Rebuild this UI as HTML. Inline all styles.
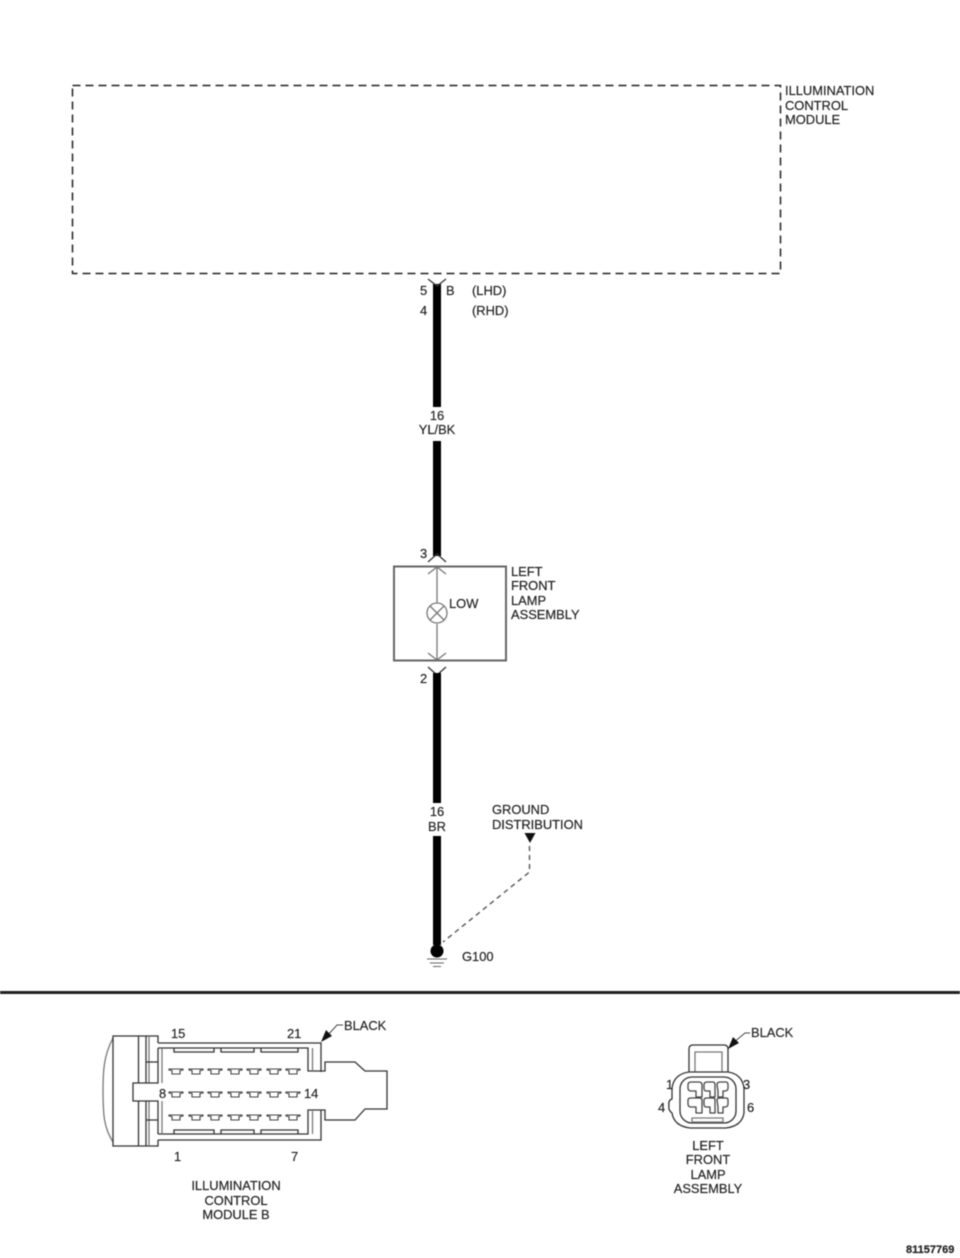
<!DOCTYPE html>
<html>
<head>
<meta charset="utf-8">
<style>
html,body{margin:0;padding:0;background:#fff;width:960px;height:1258px;overflow:hidden}
svg{display:block;filter:blur(0.45px)}
text{font-family:"Liberation Sans",sans-serif;font-size:12.9px;fill:#222;stroke:#222;stroke-width:.18px}
.m{text-anchor:middle}
.l{fill:none;stroke:#333;stroke-width:1.3}
.g{fill:none;stroke:#777;stroke-width:1.3}
.p{fill:#fff;stroke:#444;stroke-width:1.1}
</style>
</head>
<body>
<svg width="960" height="1258" viewBox="0 0 960 1258" xmlns="http://www.w3.org/2000/svg">
<rect x="72.500" y="85.500" width="708" height="188" fill="none" stroke="#222" stroke-width="1.500" stroke-dasharray="8 5"/>
<text x="785" y="95">ILLUMINATION</text>
<text x="785" y="110">CONTROL</text>
<text x="785" y="124">MODULE</text>

<!-- top wire -->
<path d="M437 284V407M437 441V556" stroke="#000" stroke-width="8" fill="none"/>
<path d="M428 279L437 286L446 279" class="l"/>
<text x="420" y="295">5</text>
<text x="446" y="295">B</text>
<text x="472" y="295">(LHD)</text>
<text x="420" y="315">4</text>
<text x="472" y="315">(RHD)</text>
<text x="437" y="420" class="m">16</text>
<text x="437" y="434" class="m">YL/BK</text>

<!-- lamp assembly -->
<text x="420" y="558">3</text>
<path d="M428 562L437 554L446 562" class="l"/>
<rect x="394" y="566.500" width="112" height="94" fill="none" stroke="#666" stroke-width="2"/>
<path d="M428 574L437 567L446 574" class="g"/>
<path d="M437 567V603M437 624V660" class="g"/>
<circle cx="437" cy="613" r="10" class="g"/>
<path d="M430 606L444 620M444 606L430 620" class="g"/>
<path d="M428 653L437 660L446 653" class="g"/>
<text x="449" y="608">LOW</text>
<text x="511" y="576">LEFT</text>
<text x="511" y="590">FRONT</text>
<text x="511" y="605">LAMP</text>
<text x="511" y="619">ASSEMBLY</text>

<!-- bottom wire -->
<text x="420" y="683">2</text>
<path d="M428 667L437 675L446 667" class="l"/>
<path d="M437 673V803M437 836V945" stroke="#000" stroke-width="8" fill="none"/>
<text x="437" y="816" class="m">16</text>
<text x="437" y="831" class="m">BR</text>
<circle cx="437" cy="951" r="6.500" fill="#000"/>
<path d="M427 959H447M430 963H444M433 966.500H441" stroke="#666" stroke-width="1" fill="none"/>
<text x="462" y="961">G100</text>
<text x="492" y="814">GROUND</text>
<text x="492" y="829">DISTRIBUTION</text>
<path d="M524.500 833H535.500L530 843Z" fill="#111"/>
<path d="M529.500 846V872L443 942" fill="none" stroke="#555" stroke-width="1.400" stroke-dasharray="5 4"/>

<!-- divider -->
<rect x="0" y="991" width="960" height="3" fill="#222"/>

<!-- left connector -->
<g>
<path d="M113 1038C104 1055 103 1070 103 1091C103 1115 104 1128 113 1142" class="g"/>
<path d="M158 1043V1036H113V1146H158V1140" class="l"/>
<path d="M158 1043H321V1072M321 1110V1140H158" class="l"/>
<path d="M138.500 1036V1083M138.500 1101V1146M146 1036V1083M146 1101V1146" class="l"/>
<path d="M149 1036V1083M149 1101V1146" class="g"/>
<path d="M158 1048V1083H133V1101H158V1134" class="l"/>
<path d="M146 1062H158M146 1120H158" class="l"/>
<path d="M158 1048H308V1071H325V1062H355L365 1071H387V1109H365L355 1120H325V1110H308V1134H158" class="l"/>
<path d="M312.500 1048V1071M312.500 1111V1134M162 1048V1083M162 1101V1134" class="g"/>
<path d="M174 1048V1052H214V1048M221 1048V1052H254V1048M261 1048V1052H298V1048" class="l"/>
<path d="M174 1134V1130H214V1134M221 1134V1130H254V1134M261 1134V1130H298V1134" class="l"/>
<g class="p">
<path d="M169 1069H183V1070L180 1070.500V1074H172V1070.500L169 1070Z M189 1069H203V1070L200 1070.500V1074H192V1070.500L189 1070Z M208 1069H222V1070L219 1070.500V1074H211V1070.500L208 1070Z M228 1069H242V1070L239 1070.500V1074H231V1070.500L228 1070Z M247 1069H261V1070L258 1070.500V1074H250V1070.500L247 1070Z M267 1069H281V1070L278 1070.500V1074H270V1070.500L267 1070Z M286 1069H300V1070L297 1070.500V1074H289V1070.500L286 1070Z"/>
<path d="M169 1092H183V1093L180 1093.500V1097H172V1093.500L169 1093Z M189 1092H203V1093L200 1093.500V1097H192V1093.500L189 1093Z M208 1092H222V1093L219 1093.500V1097H211V1093.500L208 1093Z M228 1092H242V1093L239 1093.500V1097H231V1093.500L228 1093Z M247 1092H261V1093L258 1093.500V1097H250V1093.500L247 1093Z M267 1092H281V1093L278 1093.500V1097H270V1093.500L267 1093Z M286 1092H300V1093L297 1093.500V1097H289V1093.500L286 1093Z"/>
<path d="M169 1115H183V1116L180 1116.500V1120H172V1116.500L169 1116Z M189 1115H203V1116L200 1116.500V1120H192V1116.500L189 1116Z M208 1115H222V1116L219 1116.500V1120H211V1116.500L208 1116Z M228 1115H242V1116L239 1116.500V1120H231V1116.500L228 1116Z M247 1115H261V1116L258 1116.500V1120H250V1116.500L247 1116Z M267 1115H281V1116L278 1116.500V1120H270V1116.500L267 1116Z M286 1115H300V1116L297 1116.500V1120H289V1116.500L286 1116Z"/>
</g>
<text x="171" y="1038">15</text>
<text x="287" y="1038">21</text>
<text x="159" y="1098">8</text>
<text x="304" y="1098">14</text>
<text x="174" y="1161">1</text>
<text x="291" y="1161">7</text>
<path d="M343 1025H337L327 1036" fill="none" stroke="#444" stroke-width="1"/>
<path d="M321 1042L332 1036L326 1030Z" fill="#111"/>
<text x="344" y="1030">BLACK</text>
<text x="236" y="1190" class="m">ILLUMINATION</text>
<text x="236" y="1205" class="m">CONTROL</text>
<text x="236" y="1219" class="m">MODULE B</text>
</g>

<!-- right connector -->
<g>
<path d="M689 1072V1049Q689 1045 693 1045H724Q728 1045 728 1049V1072" class="l"/>
<path d="M695 1072L695 1052H722V1072" class="g"/>
<path d="M689 1072Q674 1074 672 1088V1099Q668 1100 669 1106Q668 1110 672 1113Q674 1126 690 1128H726Q742 1126 744 1113V1088Q742 1074 728 1072Z" class="l"/>
<rect x="680" y="1077" width="56" height="46" rx="12" class="l"/>
<g fill="none" stroke="#444" stroke-width="1.300" stroke-linejoin="round">
<path d="M688 1085Q688 1082 691 1082H699Q702 1082 702 1085V1097H696V1091H691Q688 1091 688 1088Z"/>
<path d="M704 1085Q704 1082 707 1082H713Q715 1082 715 1085V1097H710V1091H706Q704 1091 704 1088Z"/>
<path d="M717 1085Q717 1082 720 1082H726Q728 1082 728 1085V1088Q728 1091 725 1091H723V1097H718V1091Z"/>
<path d="M688 1100Q688 1098 691 1098H699Q702 1098 702 1100V1113H696V1107H691Q688 1107 688 1104Z"/>
<path d="M704 1100Q704 1098 707 1098H713Q715 1098 715 1100V1113H710V1107H706Q704 1107 704 1104Z"/>
<path d="M717 1100Q717 1098 720 1098H726Q728 1098 728 1100V1104Q728 1107 725 1107H723V1113H718V1107Z"/>
</g>
<path d="M692 1118H723V1122H692Z" class="g"/>
<text x="666" y="1089">1</text>
<text x="743" y="1089">3</text>
<text x="658" y="1112">4</text>
<text x="747" y="1112">6</text>
<path d="M750 1033H745L733 1043" fill="none" stroke="#444" stroke-width="1"/>
<path d="M728 1049L739 1043L733 1037Z" fill="#111"/>
<text x="751" y="1037">BLACK</text>
<text x="708" y="1150" class="m">LEFT</text>
<text x="708" y="1164" class="m">FRONT</text>
<text x="708" y="1179" class="m">LAMP</text>
<text x="708" y="1193" class="m">ASSEMBLY</text>
</g>
<text x="906" y="1253" style="font-size:11px;font-weight:bold">81157769</text>
</svg>
</body>
</html>
